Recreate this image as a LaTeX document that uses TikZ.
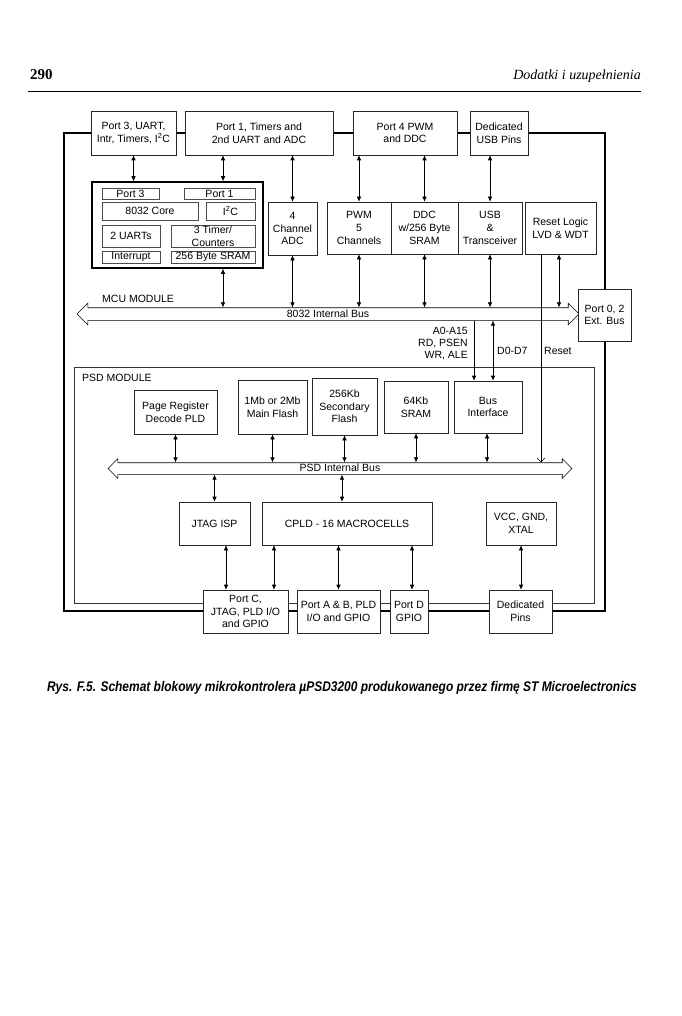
\documentclass[tikz,border=0pt]{standalone}
\usepackage{fontspec}
\usepackage{graphicx}
\setmainfont{Liberation Serif}
\setsansfont{Liberation Sans}
\usetikzlibrary{shapes.arrows, arrows.meta}

\begin{document}
\begin{tikzpicture}[x=1pt, y=-1pt,
    blk/.style={rectangle, draw=black!85, fill=white, line width=0.6pt, align=center,
        inner sep=1pt, font=\sffamily\fontsize{10.5}{12.7}\selectfont},
    cell/.style={blk, draw=black!70, line width=0.5pt, inner sep=0.5pt},
    sz/.style 2 args={minimum width=#1pt, minimum height=#2pt},
    bus/.style={double arrow, draw, fill=white, line width=0.6pt, double arrow tip angle=90,
        inner xsep=0pt, inner ysep=1pt, text height=8pt, text depth=2pt,
        font=\sffamily\fontsize{10.5}{12.7}\selectfont},
    bi/.style={{Latex[length=5pt,width=4.5pt]}-{Latex[length=5pt,width=4.5pt]}, line width=0.6pt},
    uni/.style={-{Latex[length=5pt,width=4.5pt]}, line width=0.6pt},
    lbl/.style={font=\sffamily\fontsize{10.5}{11.8}\selectfont, inner sep=0pt},
    frame/.style={line width=1.3pt},
    psdframe/.style={line width=0.6pt, draw=black!80}
]

\useasboundingbox[fill=white] (0,0) rectangle (681,1016);

% --- Nagłówek strony ---
\node[font=\bfseries\fontsize{15}{17}\selectfont, anchor=base west, inner sep=0pt] (pagenum) at (30,80) {290};
\node[font=\itshape\fontsize{14}{16}\selectfont, anchor=base east, inner sep=0pt] (runhead) at (641,80) {Dodatki i uzupełnienia};
\draw[line width=0.9pt] (28,91) -- (641,91);

% --- Ramki modułów ---
\draw[frame] (64,133) rectangle (605,611);
\draw[psdframe] (74,367) rectangle (594,603);

% --- Porty MCU (góra) ---
\node[blk, sz={85}{44}] (p3top) at (133.5,133) {Port 3, UART,\\Intr, Timers, I\textsuperscript{2}C};
\node[blk, sz={148}{44}] (p1top) at (259,133) {Port 1, Timers and\\2nd UART and ADC};
\node[blk, sz={104}{44}] (p4top) at (405,133) {Port 4 PWM\\and DDC};
\node[blk, sz={58}{44}] (usbpins) at (499,133) {Dedicated\\USB Pins};

% --- Rdzeń 8032 ---
\node[blk, line width=1.5pt, draw=black, sz={171}{86}] (coreblk) at (177.5,225) {};
\node[cell, sz={57}{11}] (cp3) at (130.5,193.5) {Port 3};
\node[cell, sz={71}{11}] (cp1) at (219.5,193.5) {Port 1};
\node[cell, sz={96}{18}] (core) at (150,211) {8032 Core};
\node[cell, sz={49}{18}] (i2c) at (230.5,211) {I\textsuperscript{2}C};
\node[cell, sz={58}{22}] (uarts) at (131,236) {2 UARTs};
\node[cell, sz={84}{22}] (timers) at (213,236) {3 Timer/\\Counters};
\node[cell, sz={58}{12}] (intr) at (131,257) {Interrupt};
\node[cell, sz={84}{12}] (csram) at (213,257) {256 Byte SRAM};

% --- Peryferia MCU ---
\node[blk, sz={49}{53}] (adc) at (292.5,228.5) {4\\Channel\\ADC};
\node[blk, sz={64}{52}] (pwm) at (359,228) {PWM\\5\\Channels};
\node[blk, sz={67}{52}] (ddc) at (424.5,228) {DDC\\w/256 Byte\\SRAM};
\node[blk, sz={64}{52}] (usb) at (490,228) {USB\\\&\\Transceiver};
\node[blk, sz={71}{52}] (reset) at (560.5,228) {Reset Logic\\LVD \& WDT};

% --- Magistrala 8032 ---
\node[bus, minimum height=502pt, double arrow head extend=4.5pt] (mcubus) at (328,314) {8032 Internal Bus};
\node[blk, sz={53}{52}] (port02) at (604.5,315) {Port 0, 2\\Ext. Bus};
\node[lbl, anchor=west] (mcutitle) at (102,299) {MCU MODULE};

% --- Moduł PSD ---
\node[lbl, anchor=west] (psdtitle) at (82,378) {PSD MODULE};
\node[blk, sz={83}{44}] (pagereg) at (175.5,412) {Page Register\\Decode PLD};
\node[blk, sz={69}{54}] (mainfl) at (272.5,407) {1Mb or 2Mb\\Main Flash};
\node[blk, sz={65}{57}] (secfl) at (344.5,406.5) {256Kb\\Secondary\\Flash};
\node[blk, sz={64}{52}] (sram64) at (416,407) {64Kb\\SRAM};
\node[blk, sz={68}{52}] (busif) at (488,407) {Bus\\Interface};

\node[bus, minimum height=464pt, double arrow head extend=4pt, inner ysep=0.5pt] (psdbus) at (340,468.5) {PSD Internal Bus};

\node[blk, sz={71}{43}] (jtag) at (214.5,523.5) {JTAG ISP};
\node[blk, sz={170}{43}] (cpld) at (347,523.5) {CPLD - 16 MACROCELLS};
\node[blk, sz={70}{43}] (vcc) at (521,523.5) {VCC, GND,\\XTAL};

% --- Porty (dół) ---
\node[blk, sz={85}{43}] (portc) at (245.5,611.5) {Port C,\\JTAG, PLD I/O\\and GPIO};
\node[blk, sz={83}{43}] (portab) at (338.5,611.5) {Port A \& B, PLD\\I/O and GPIO};
\node[blk, sz={38}{43}] (portd) at (409,611.5) {Port D\\GPIO};
\node[blk, sz={63}{43}] (dedpins) at (520.5,611.5) {Dedicated\\Pins};

% --- Etykiety sygnałów ---
\node[lbl, anchor=east, align=right] (addr) at (468,343.5) {A0-A15\\RD, PSEN\\WR, ALE};
\node[lbl, anchor=west] (data) at (497,351) {D0-D7};
\node[lbl, anchor=west] (rst) at (544,351) {Reset};

% --- Połączenia MCU ---
\draw[bi] (p3top.south) -- (p3top.south |- coreblk.north);
\draw[bi] ([xshift=-36pt]p1top.south) -- ([xshift=-36pt]p1top.south |- coreblk.north);
\draw[bi] (adc.north |- p1top.south) -- (adc.north);
\draw[bi] (pwm.north |- p4top.south) -- (pwm.north);
\draw[bi] (ddc.north |- p4top.south) -- (ddc.north);
\draw[bi] (usb.north |- usbpins.south) -- (usb.north);

\draw[bi] ([xshift=45.5pt]coreblk.south) -- ([xshift=45.5pt]coreblk.south |- mcubus.north);
\draw[bi] (adc.south) -- (adc.south |- mcubus.north);
\draw[bi] (pwm.south) -- (pwm.south |- mcubus.north);
\draw[bi] (ddc.south) -- (ddc.south |- mcubus.north);
\draw[bi] (usb.south) -- (usb.south |- mcubus.north);
\draw[bi] ([xshift=-1.5pt]reset.south) -- ([xshift=-1.5pt]reset.south |- mcubus.north);

% --- MCU -> PSD ---
\draw[uni] ([xshift=-14pt]busif.north |- mcubus.south) -- ([xshift=-14pt]busif.north);
\draw[bi] ([xshift=5pt]busif.north |- mcubus.south) -- ([xshift=5pt]busif.north);
\draw[line width=0.6pt, -{Straight Barb[length=4pt,width=8pt]}] ([xshift=-19.5pt]reset.south) -- ([xshift=-19.5pt]reset.south |- psdbus.north);

% --- Połączenia PSD ---
\draw[bi] (pagereg.south) -- (pagereg.south |- psdbus.north);
\draw[bi] (mainfl.south) -- (mainfl.south |- psdbus.north);
\draw[bi] (secfl.south) -- (secfl.south |- psdbus.north);
\draw[bi] (sram64.south) -- (sram64.south |- psdbus.north);
\draw[bi] ([xshift=-1pt]busif.south) -- ([xshift=-1pt]busif.south |- psdbus.north);
\draw[bi] (jtag.north |- psdbus.south) -- (jtag.north);
\draw[bi] ([xshift=-5pt]cpld.north |- psdbus.south) -- ([xshift=-5pt]cpld.north);

\draw[bi] ([xshift=11.5pt]jtag.south) -- ([xshift=11.5pt]jtag.south |- portc.north);
\draw[bi] ([xshift=-73pt]cpld.south) -- ([xshift=-73pt]cpld.south |- portc.north);
\draw[bi] (portab.north |- cpld.south) -- (portab.north);
\draw[bi] ([xshift=3pt]portd.north |- cpld.south) -- ([xshift=3pt]portd.north);
\draw[bi] (vcc.south) -- (vcc.south |- dedpins.north);

% --- Podpis ---
\node[font=\sffamily\bfseries\itshape\fontsize{14}{16}\selectfont, anchor=base, inner sep=0pt] (caption) at (342,691)
    {\scalebox{0.855}[1]{Rys. F.5. Schemat blokowy mikrokontrolera µPSD3200 produkowanego przez firmę ST Microelectronics}};

\end{tikzpicture}
\end{document}
